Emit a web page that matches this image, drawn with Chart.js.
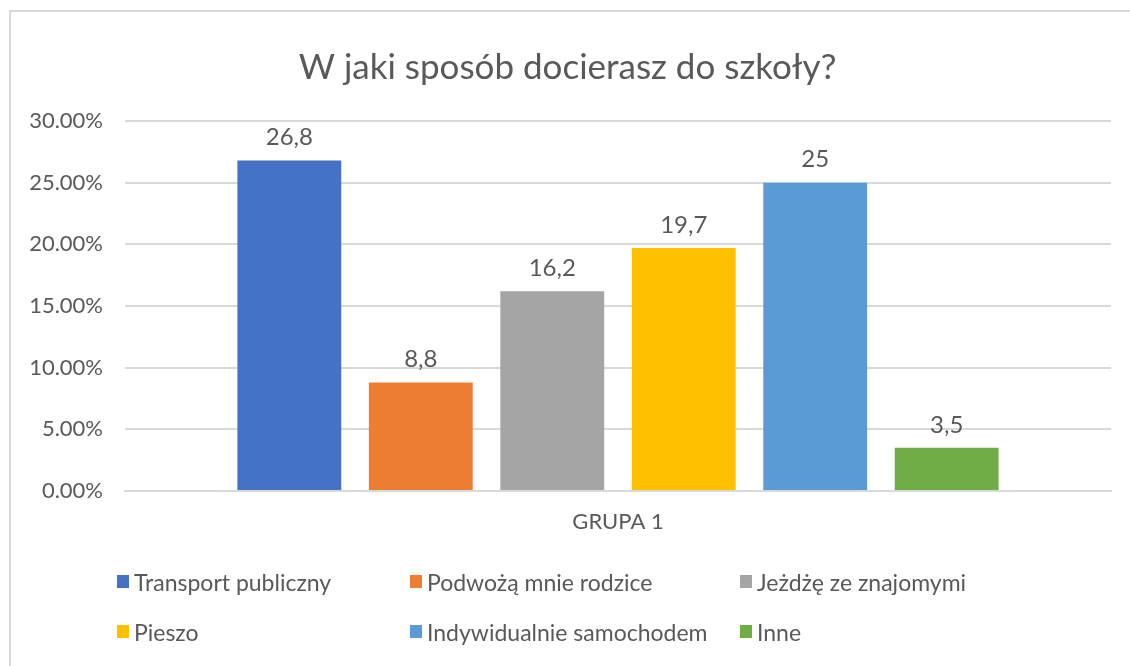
<!DOCTYPE html>
<html lang="pl">
<head>
<meta charset="utf-8">
<script src="https://cdn.jsdelivr.net/npm/chart.js@4/dist/chart.umd.min.js"></script>
<style>
  html, body { margin: 0; padding: 0; background: #fff; overflow: hidden; }
  body { width: 1130px; height: 666px; position: relative; font-family: Lato, "Open Sans", sans-serif; }
  #frame { position: absolute; left: 9px; top: 10px; width: 1300px; height: 800px; border: 2px solid #d9d9d9; box-sizing: border-box; }
  #wrap { position: absolute; left: 24px; top: 0; width: 1106px; height: 666px; }
  #legend { position: absolute; left: 117px; top: 570px; display: grid; grid-template-columns: 293px 330px auto; row-gap: 27px; color: #595959; font-size: 23px; }
  #legend .item { display: flex; align-items: center; height: 23px; white-space: nowrap; }
  #legend .box { width: 12px; height: 13px; margin-right: 5px; }
</style>
</head>
<body>
<div id="frame"></div>
<div id="wrap"><canvas id="chart"></canvas></div>
<div id="legend"></div>
<script>
const chartTitle = 'W jaki sposób docierasz do szkoły?';
const categories = ['GRUPA 1'];
const seriesNames = ['Transport publiczny', 'Podwożą mnie rodzice', 'Jeżdżę ze znajomymi', 'Pieszo', 'Indywidualnie samochodem', 'Inne'];
const seriesValues = [26.8, 8.8, 16.2, 19.7, 25, 3.5];
const seriesColors = ['#4472c4', '#ed7d31', '#a5a5a5', '#ffc000', '#5b9bd5', '#70ad47'];
const yTicks = [0, 5, 10, 15, 20, 25, 30];

const textColor = '#595959';
const fontFamily = 'Lato, "Open Sans", sans-serif';

// value labels above each bar, with a comma as decimal mark
const barLabels = {
    id: 'barLabels',
    afterDatasetsDraw(chart) {
        const ctx = chart.ctx;
        ctx.save();
        ctx.font = '24px ' + fontFamily;
        ctx.fillStyle = textColor;
        ctx.textAlign = 'center';
        ctx.textBaseline = 'middle';
        chart.data.datasets.forEach((ds, i) => {
            const meta = chart.getDatasetMeta(i);
            meta.data.forEach((bar, j) => {
                const text = String(ds.data[j]).replace('.', ',');
                ctx.fillText(text, bar.x, bar.y - 23);
            });
        });
        ctx.restore();
    }
};

const datasets = seriesNames.map((name, i) => ({
    label: name,
    data: [seriesValues[i]],
    backgroundColor: seriesColors[i],
    barPercentage: 0.79,
    categoryPercentage: 0.8
}));

const chart = new Chart(document.getElementById('chart'), {
    type: 'bar',
    data: { labels: categories, datasets: datasets },
    options: {
        responsive: true,
        maintainAspectRatio: false,
        animation: false,
        layout: { padding: { top: 10, left: 0, right: 19, bottom: 130 } },
        plugins: {
            legend: { display: false },
            tooltip: { enabled: false },
            title: {
                display: true,
                text: chartTitle,
                color: textColor,
                font: { family: fontFamily, size: 35, weight: 'normal' },
                padding: { top: 37, bottom: 32 }
            }
        },
        scales: {
            x: {
                grid: { display: false },
                border: { color: '#d9d9d9', width: 2 },
                ticks: { color: textColor, font: { family: fontFamily, size: 22 }, padding: 10 },
                afterFit(scale) { scale.height = 45; }
            },
            y: {
                min: 0,
                max: 30,
                afterBuildTicks(scale) { scale.ticks = yTicks.map(v => ({ value: v })); },
                grid: { color: '#d9d9d9', lineWidth: 2, drawTicks: false },
                border: { display: false },
                ticks: {
                    color: textColor,
                    font: { family: fontFamily, size: 22 },
                    padding: 22,
                    callback: v => v.toFixed(2) + '%'
                },
                afterFit(scale) { scale.width = 101; }
            }
        }
    },
    plugins: [barLabels]
});

// legend laid out in three columns like the original
const legendEl = document.getElementById('legend');
chart.data.datasets.forEach(ds => {
    const item = document.createElement('div');
    item.className = 'item';
    const box = document.createElement('span');
    box.className = 'box';
    box.style.background = ds.backgroundColor;
    item.appendChild(box);
    item.appendChild(document.createTextNode(ds.label));
    legendEl.appendChild(item);
});
</script>
</body>
</html>
